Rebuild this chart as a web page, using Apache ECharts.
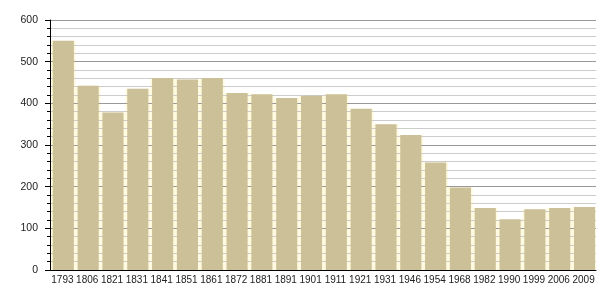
<!DOCTYPE html>
<html><head><meta charset="utf-8">
<script src="https://cdn.jsdelivr.net/npm/echarts@6/dist/echarts.min.js"></script>
<style>html,body{margin:0;padding:0;background:#fff}#c{width:605px;height:300px}</style>
</head><body><div id="c"></div>
<script>
const years = ['1793','1806','1821','1831','1841','1851','1861','1872','1881','1891','1901','1911','1921','1931','1946','1954','1968','1982','1990','1999','2006','2009'];
const population = [550,442,378,435,461,457,461,425,422,413,418,422,387,350,324,258,198,149,122,146,149,151];
const yTicks = [0,100,200,300,400,500,600];

const chart = echarts.init(document.getElementById('c'));
chart.setOption({
  animation:false,
  grid:{left:50,right:9,top:20,bottom:30},
  xAxis:{type:'category',data:years,
    axisLine:{lineStyle:{color:'#000',width:1}},
    axisTick:{show:false},
    axisLabel:{color:'#222',fontSize:10,fontFamily:'Liberation Sans, Arial, sans-serif',margin:5,interval:0}},
  yAxis:{type:'value',min:yTicks[0],max:yTicks[yTicks.length-1],interval:100,
    axisLine:{show:true,lineStyle:{color:'#000'}},
    axisTick:{show:true,length:5,lineStyle:{color:'#000'}},
    minorTick:{show:true,splitNumber:5,length:3,lineStyle:{color:'#000'}},
    splitLine:{lineStyle:{color:'#999',width:1}},
    minorSplitLine:{show:true,lineStyle:{color:'#ccc',width:1}},
    axisLabel:{color:'#222',fontSize:10.5,fontFamily:'Liberation Sans, Arial, sans-serif',margin:12}},
  series:[
    {type:'bar',data:population,barWidth:'100%',z:-1,silent:true,
      itemStyle:{color:'rgba(255,246,200,0.6)'}},
    {type:'bar',data:population,barWidth:'85%',barGap:'-92.5%',
      itemStyle:{color:'#cbc098'}}
  ]
});
</script></body></html>
